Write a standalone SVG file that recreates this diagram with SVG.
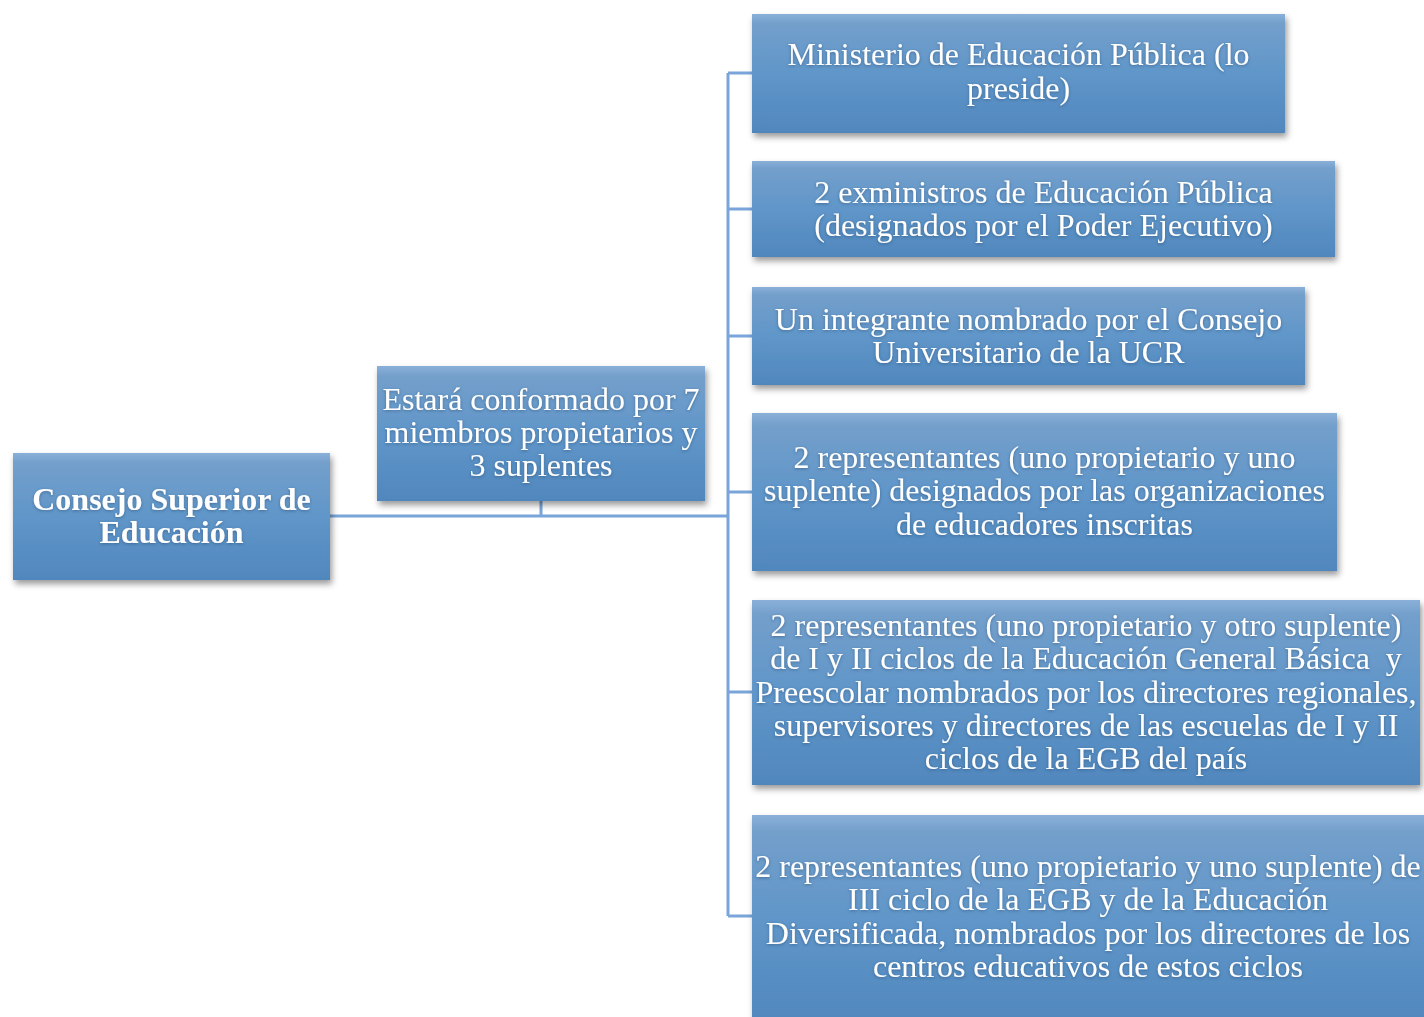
<svg xmlns="http://www.w3.org/2000/svg" width="1424" height="1017" viewBox="0 0 1424 1017">
<defs>
<linearGradient id="g" x1="0" y1="0" x2="0" y2="1">
<stop offset="0" stop-color="#8ab0d9"/>
<stop offset="0.08" stop-color="#739fcb"/>
<stop offset="0.5" stop-color="#6096c9"/>
<stop offset="1" stop-color="#5087bd"/>
</linearGradient>
<filter id="sh" x="-5%" y="-10%" width="115%" height="130%">
<feDropShadow dx="2" dy="4" stdDeviation="3" flood-color="#000" flood-opacity="0.4"/>
</filter>
<filter id="ts" x="-5%" y="-20%" width="110%" height="140%">
<feDropShadow dx="0" dy="1" stdDeviation="1.5" flood-color="#1d3c5e" flood-opacity="0.5"/>
</filter>
</defs>
<style>
.box{fill:url(#g);filter:url(#sh)}
.t{font-family:"Liberation Serif","Times New Roman",serif;font-size:32px;fill:#ffffff;text-anchor:middle;filter:url(#ts)}
.b{font-weight:bold}
.c{fill:none;stroke:#7aa5da;stroke-width:3}
</style>
<rect width="1424" height="1017" fill="#ffffff"/>
<g id="connectors">
<path class="c" d="M330 516 H728 M541 501 V516 M728 73 V916 M728 73 H752 M728 209 H752 M728 336 H752 M728 492 H752 M728 692 H752 M728 916 H752"/>
</g>
<g id="n0">
<rect class="box" x="13" y="453" width="317" height="127"/>
<text class="t b" x="171.5" y="510">Consejo Superior de</text>
<text class="t b" x="171.5" y="543">Educación</text>
</g>
<g id="n1">
<rect class="box" x="377" y="366" width="328" height="135"/>
<text class="t" x="541" y="410">Estará conformado por 7</text>
<text class="t" x="541" y="443">miembros propietarios y</text>
<text class="t" x="541" y="476">3 suplentes</text>
</g>
<g id="n2">
<rect class="box" x="752" y="14" width="533" height="119"/>
<text class="t" x="1018.5" y="65">Ministerio de Educación Pública (lo</text>
<text class="t" x="1018.5" y="99">preside)</text>
</g>
<g id="n3">
<rect class="box" x="752" y="161" width="583" height="96"/>
<text class="t" x="1043.5" y="203">2 exministros de Educación Pública</text>
<text class="t" x="1043.5" y="236">(designados por el Poder Ejecutivo)</text>
</g>
<g id="n4">
<rect class="box" x="752" y="287" width="553" height="98"/>
<text class="t" x="1028.5" y="330">Un integrante nombrado por el Consejo</text>
<text class="t" x="1028.5" y="363">Universitario de la UCR</text>
</g>
<g id="n5">
<rect class="box" x="752" y="413" width="585" height="158"/>
<text class="t" x="1044.5" y="468">2 representantes (uno propietario y uno</text>
<text class="t" x="1044.5" y="501">suplente) designados por las organizaciones</text>
<text class="t" x="1044.5" y="535">de educadores inscritas</text>
</g>
<g id="n6">
<rect class="box" x="752" y="600" width="668" height="185"/>
<text class="t" x="1086" y="636">2 representantes (uno propietario y otro suplente)</text>
<text class="t" x="1086" y="669" xml:space="preserve">de I y II ciclos de la Educación General Básica  y</text>
<text class="t" x="1086" y="703">Preescolar nombrados por los directores regionales,</text>
<text class="t" x="1086" y="736">supervisores y directores de las escuelas de I y II</text>
<text class="t" x="1086" y="769">ciclos de la EGB del país</text>
</g>
<g id="n7">
<rect class="box" x="752" y="815" width="672" height="210"/>
<text class="t" x="1088" y="877">2 representantes (uno propietario y uno suplente) de</text>
<text class="t" x="1088" y="910">III ciclo de la EGB y de la Educación</text>
<text class="t" x="1088" y="944">Diversificada, nombrados por los directores de los</text>
<text class="t" x="1088" y="977">centros educativos de estos ciclos</text>
</g>
</svg>
